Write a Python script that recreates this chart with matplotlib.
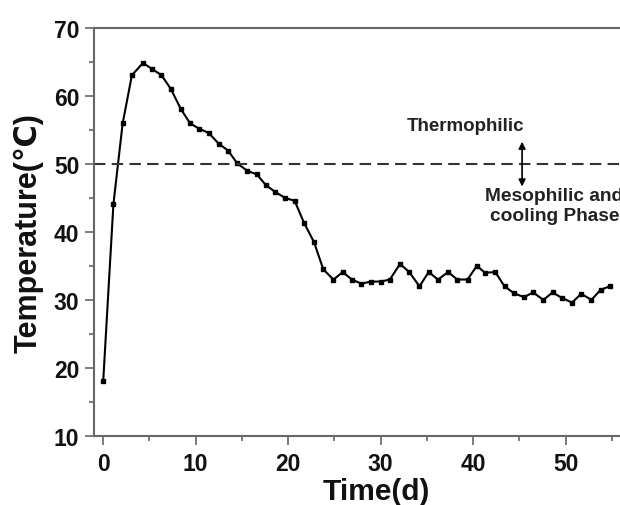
import matplotlib
matplotlib.use("Agg")
import matplotlib.pyplot as plt
from matplotlib.ticker import MultipleLocator, FixedLocator

# Composting temperature readings
days = [0.0, 1.1, 2.1, 3.1, 4.3, 5.3, 6.3, 7.3, 8.4, 9.4,
        10.4, 11.4, 12.5, 13.5, 14.5, 15.6, 16.6, 17.6, 18.6, 19.7,
        20.7, 21.7, 22.8, 23.8, 24.9, 25.9, 26.9, 27.9, 29.0, 30.0,
        31.0, 32.1, 33.1, 34.2, 35.2, 36.2, 37.3, 38.3, 39.4, 40.4,
        41.3, 42.4, 43.4, 44.4, 45.5, 46.5, 47.6, 48.6, 49.6, 50.7,
        51.7, 52.8, 53.8, 54.8]
temperature = [18.1, 44.1, 56.0, 63.1, 64.9, 64.0, 63.1, 61.1, 58.1, 56.0,
               55.2, 54.6, 53.0, 52.0, 50.1, 49.0, 48.5, 46.9, 45.9, 45.0,
               44.6, 41.4, 38.5, 34.5, 33.0, 34.1, 33.0, 32.4, 32.7, 32.7,
               33.0, 35.3, 34.1, 32.0, 34.1, 33.0, 34.1, 33.0, 33.0, 35.0,
               34.0, 34.1, 32.0, 31.0, 30.4, 31.1, 30.0, 31.1, 30.3, 29.6,
               30.9, 30.0, 31.5, 32.0]

x_ticks = [0, 10, 20, 30, 40, 50]
threshold = 50
phase_labels = ["Thermophilic", "Mesophilic and\ncooling Phase"]

plt.rcParams["font.family"] = ["Liberation Sans", "DejaVu Sans"]
plt.rcParams["font.weight"] = "bold"

fig = plt.figure(figsize=(6.2, 5.06), dpi=100)
# axes run past the right edge on purpose (the reference is cropped)
ax = fig.add_axes([0.1516, 0.137, 0.9097, 0.805])

ax.plot(days, temperature, color="black", lw=1.5, marker="s", markersize=3.0)

# 50 degree line splitting the two phases
ax.axhline(threshold, color="#333333", lw=1.5, dashes=(5.5, 3))

# double arrow and phase labels
ax.annotate("", xy=(45.3, 53.3), xytext=(45.3, 46.7),
            arrowprops=dict(arrowstyle="<|-|>", color="black", lw=1.2,
                            mutation_scale=10, shrinkA=0, shrinkB=0))
ax.text(39.2, 55.65, phase_labels[0], ha="center", va="center",
        fontsize=13.5, fontweight="bold", color="#222222")
ax.text(48.8, 43.9, phase_labels[1], ha="center", va="center",
        fontsize=13.8, fontweight="bold", color="#222222", linespacing=1.3)

ax.set_xlim(-1, 60)
ax.set_ylim(10, 70)
ax.xaxis.set_major_locator(FixedLocator(x_ticks))
ax.xaxis.set_minor_locator(MultipleLocator(5))
ax.yaxis.set_major_locator(MultipleLocator(10))
ax.yaxis.set_minor_locator(MultipleLocator(5))

for side in ["left", "bottom", "top", "right"]:
    ax.spines[side].set_color("#666666")
    ax.spines[side].set_linewidth(1.5)

ax.tick_params(which="major", direction="out", length=6.5, width=1.2,
               color="#666666", labelsize=16.5, pad=4, labelcolor="#111111")
ax.tick_params(axis="x", which="major", pad=5)
ax.tick_params(which="minor", direction="out", length=3.6, width=1.2,
               color="#666666")
for lbl in ax.get_xticklabels() + ax.get_yticklabels():
    lbl.set_fontweight("bold")

ax.set_xlabel("Time(d)", fontsize=21.5, fontweight="bold", labelpad=2,
              color="#111111")
ax.set_ylabel("Temperature(℃)", fontsize=22, fontweight="bold", labelpad=7,
              color="#111111")

plt.savefig("out.png", dpi=100)
